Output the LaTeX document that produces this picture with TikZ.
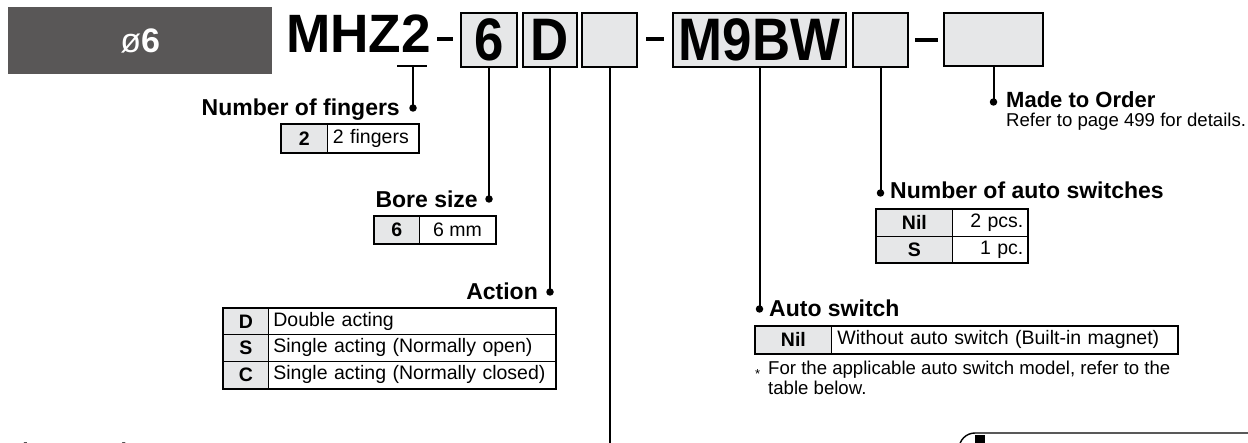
\documentclass[tikz,border=0pt]{standalone}
\usepackage{fontspec}
\setmainfont{Liberation Sans}
\newfontfamily\codefont{Liberation Sans}[FakeStretch=0.985]
\newfontfamily\boxfont{Liberation Sans}[FakeStretch=0.88]
\definecolor{keygray}{HTML}{E6E7E8}
\definecolor{darkbox}{HTML}{595757}
\begin{document}
\begin{tikzpicture}[x=1pt,y=-1pt,
  conn/.style={line width=2pt},
  dotmark/.style={circle,fill=black,inner sep=0pt,minimum size=7.5pt},
  hdr/.style={inner sep=0pt,font=\fontsize{23}{27}\selectfont\bfseries},
  plain/.style={inner sep=0pt,font=\fontsize{18.6}{21}\selectfont},
  codebox/.style={draw=black,line width=1.6pt,fill=keygray,inner sep=0pt,minimum height=54pt,
    font=\boxfont\bfseries\fontsize{60}{60}\selectfont},
  keycell/.style={draw=black,line width=0.8pt,fill=keygray,inner sep=0pt,anchor=north west,
    font=\fontsize{19.5}{22}\selectfont\bfseries},
  desccell/.style={draw=black,line width=0.8pt,fill=white,inner sep=0pt,anchor=north west,
    font=\fontsize{19.5}{22}\selectfont},
  tframe/.style={line width=1.6pt},
  dashsep/.style={line width=3.2pt}
]
\useasboundingbox (0,0) rectangle (1248,443);

% size tag
\node[fill=darkbox,anchor=north west,inner sep=0pt,minimum width=264pt,minimum height=67pt] (sz) at (8,7)
  {\color{white}\fontsize{34}{34}\selectfont ø\textbf{6}};

% model code
\node[anchor=base west,inner sep=0pt,font=\codefont\bfseries\fontsize{54}{54}\selectfont] (code) at (286,53) {MHZ2};
\coordinate (ula) at (397,66);
\coordinate (ulb) at (427,66);
\coordinate (ulm) at (413,66);
\draw[line width=2.4pt] (ula) -- (ulb);

\coordinate (da1) at (437,39); \coordinate (db1) at (453,39);
\draw[dashsep] (da1) -- (db1);
\node[codebox,minimum width=56pt] (bx6) at (489,40) {6};
\node[codebox,minimum width=54pt] (bxD) at (550,40) {D};
\node[codebox,minimum width=55pt] (bxE) at (609.5,40) {};
\coordinate (da2) at (646,39); \coordinate (db2) at (664,39);
\draw[dashsep] (da2) -- (db2);
\node[codebox,minimum width=173pt] (bxM) at (759.5,40) {M9BW};
\node[codebox,minimum width=55pt] (bxN) at (880.5,40) {};
\coordinate (da3) at (915,40); \coordinate (db3) at (938,40);
\draw[dashsep] (da3) -- (db3);
\node[codebox,minimum width=99pt,minimum height=53pt] (bxO) at (993.5,39.5) {};

% Number of fingers
\node[dotmark] (d1) at (413,108) {};
\draw[conn] (ulm) -- (d1.center);
\node[hdr,anchor=base east] (h1) at (400,116) {Number of fingers};
\node[keycell,minimum width=46pt,minimum height=28pt] (f1) at (281,124) {2};
\node[desccell,minimum height=28pt,text width=80pt,inner xsep=5.5pt,align=left] (f2) at (327,124) {2 fingers};
\draw[tframe] (f1.north west) rectangle (f2.south east);

% Bore size
\node[dotmark] (d2) at (489,199) {};
\draw[conn] (bx6.south) -- (d2.center);
\node[hdr,anchor=base east] (h2) at (478,208) {Bore size};
\node[keycell,minimum width=45pt,minimum height=27pt] (b1) at (374,216) {6};
\node[desccell,minimum width=76pt,minimum height=27pt] (b2) at (419,216) {6 mm};
\draw[tframe] (b1.north west) rectangle (b2.south east);

% Action
\node[dotmark] (d3) at (550,292) {};
\draw[conn] (bxD.south) -- (d3.center);
\node[hdr,anchor=base east] (h3) at (538,300) {Action};
\node[keycell,minimum width=45pt,minimum height=26pt] (a1) at (223,308) {D};
\node[desccell,minimum height=26pt,text width=277pt,inner xsep=5pt,align=left] (a2) at (268,308) {Double acting};
\node[keycell,minimum width=45pt,minimum height=27pt] (a3) at (223,334) {S};
\node[desccell,minimum height=27pt,text width=277pt,inner xsep=5pt,align=left] (a4) at (268,334) {Single acting (Normally open)};
\node[keycell,minimum width=45pt,minimum height=27pt] (a5) at (223,361) {C};
\node[desccell,minimum height=27pt,text width=277pt,inner xsep=5pt,align=left] (a6) at (268,361) {Single acting (Normally closed)};
\draw[tframe] (a1.north west) rectangle (a6.south east);

% line from empty box down
\coordinate (bot) at (609.5,450);
\draw[conn] (bxE.south) -- (bot);

% Auto switch
\node[dotmark] (d4) at (759.5,309) {};
\draw[conn] (bxM.south) -- (d4.center);
\node[hdr,anchor=base west] (h4) at (769,317) {Auto switch};
\node[keycell,minimum width=76pt,minimum height=27pt] (s1) at (755,326) {Nil};
\node[desccell,minimum height=27pt,text width=334pt,inner xsep=6pt,align=left] (s2) at (831,326) {Without auto switch (Built-in magnet)};
\draw[tframe] (s1.north west) rectangle (s2.south east);
\node[plain,anchor=base west] (fn1) at (755,375) {\makebox[13pt][l]{\raisebox{-3.5pt}{\fontsize{13}{13}\selectfont *}}For the applicable auto switch model, refer to the};
\node[plain,anchor=base west] (fn2) at (768,395) {table below.};

% Number of auto switches
\node[dotmark] (d5) at (880.5,193) {};
\draw[conn] (bxN.south) -- (d5.center);
\node[hdr,anchor=base west] (h5) at (890,199) {Number of auto switches};
\node[keycell,minimum width=76pt,minimum height=27pt] (n1) at (876,209) {Nil};
\node[desccell,minimum height=27pt,text width=67pt,inner xsep=4pt,align=right] (n2) at (952,209) {2 pcs.};
\node[keycell,minimum width=76pt,minimum height=26pt] (n3) at (876,236) {S};
\node[desccell,minimum height=26pt,text width=67pt,inner xsep=4pt,align=right] (n4) at (952,236) {1 pc.};
\draw[tframe] (n1.north west) rectangle (n4.south east);

% Made to Order
\node[dotmark] (d6) at (993.5,102) {};
\draw[conn] (bxO.south) -- (d6.center);
\node[hdr,anchor=base west,font=\fontsize{22}{26}\selectfont\bfseries] (h6) at (1006,108) {Made to Order};
\node[plain,anchor=base west] (mo) at (1006,127) {Refer to page 499 for details.};

% Finger option (cut off at the lower edge, as in the reference)
\node[hdr,anchor=base west] (h7) at (8,460) {Finger option};
\node[dotmark] (d7) at (168,450) {};

% framed box at bottom right (cut off)
\draw[line width=1.4pt,rounded corners=16pt] (959,480) |- (1262,433);
\fill (975,435) rectangle (985,460);
\end{tikzpicture}
\end{document}
